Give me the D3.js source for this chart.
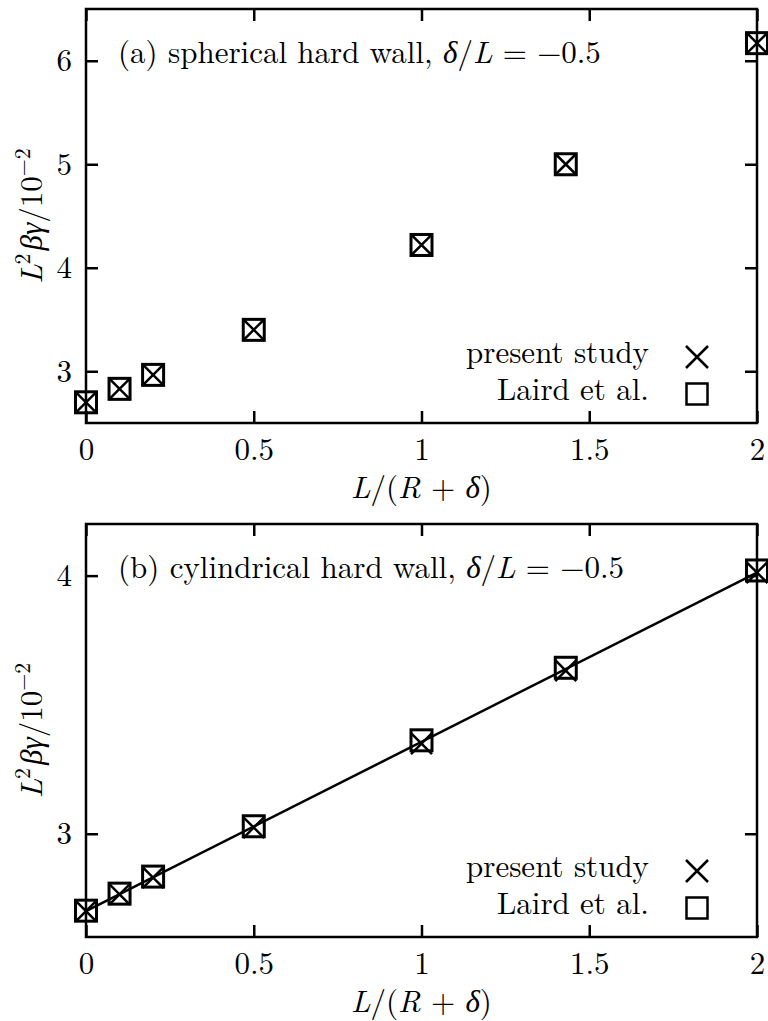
<!DOCTYPE html>
<html>
<head>
<meta charset="utf-8">
<script src="https://cdn.jsdelivr.net/npm/d3@7"></script>
<style>
  body { margin: 0; background: #fff; }
</style>
</head>
<body>
<div id="chart"></div>
<script>
// L/(R+delta) sample points
var xValues = [0, 0.1, 0.2, 0.5, 1, 1.43, 2];
var xTicks = [0, 0.5, 1, 1.5, 2];

// (a) spherical hard wall
var sphPresent = [2.70, 2.83, 2.965, 3.40, 4.22, 5.00, 6.17];
var sphLaird   = [2.70, 2.83, 2.965, 3.40, 4.22, 5.00, 6.17];
var sphTicks = [3, 4, 5, 6];

// (b) cylindrical hard wall
var cylPresent = [2.700, 2.765, 2.830, 3.024, 3.349, 3.632, 4.012];
var cylLaird   = [2.702, 2.768, 2.834, 3.029, 3.362, 3.643, 4.020];
var cylFitX = [0, 2];
var cylFitY = [2.70, 4.012];
var cylTicks = [3, 4];

var legendLabels = ["present study", "Laird et al."];

var width = 768, height = 1021;
var fs = 31;
var font = "'Latin Modern Roman', 'Liberation Serif', serif";

var svg = d3.select("#chart").append("svg")
  .attr("width", width)
  .attr("height", height)
  .style("font-family", font);

function txt(sel) {
  return sel.style("font-family", font).style("font-size", fs + "px").attr("fill", "#000");
}

function drawPanel(opt) {
  var left = 86, right = 757;
  var x = d3.scaleLinear().domain([0, 2]).range([left, right]);
  var y = d3.scaleLinear().domain(opt.yDomain).range([opt.bottom, opt.top]);
  var g = svg.append("g");

  // bottom axis with labels
  g.append("g")
    .attr("transform", "translate(0," + opt.bottom + ")")
    .call(d3.axisBottom(x).tickValues(xTicks).tickFormat(d3.format("")).tickSize(-12).tickSizeOuter(0).tickPadding(15))
    .call(function (s) { s.select(".domain").remove(); });
  // top ticks
  g.append("g")
    .attr("transform", "translate(0," + opt.top + ")")
    .call(d3.axisTop(x).tickValues(xTicks).tickFormat("").tickSize(-12).tickSizeOuter(0))
    .call(function (s) { s.select(".domain").remove(); });
  // left axis with labels
  g.append("g")
    .attr("transform", "translate(" + left + ",0)")
    .call(d3.axisLeft(y).tickValues(opt.yTicks).tickFormat(d3.format("d")).tickSize(-12).tickSizeOuter(0).tickPadding(14))
    .call(function (s) { s.select(".domain").remove(); });
  // right ticks
  g.append("g")
    .attr("transform", "translate(" + right + ",0)")
    .call(d3.axisRight(y).tickValues(opt.yTicks).tickFormat("").tickSize(-12).tickSizeOuter(0))
    .call(function (s) { s.select(".domain").remove(); });

  g.selectAll("g").attr("font-family", null).attr("font-size", null);
  g.selectAll(".tick line").attr("stroke", "#000").attr("stroke-width", 2.5);
  txt(g.selectAll(".tick text"));

  g.append("rect")
    .attr("x", left).attr("y", opt.top)
    .attr("width", right - left).attr("height", opt.bottom - opt.top)
    .attr("fill", "none").attr("stroke", "#000").attr("stroke-width", 2.5);

  // fit line
  if (opt.fitX) {
    var line = d3.line().x(function (d) { return x(d[0]); }).y(function (d) { return y(d[1]); });
    g.append("path")
      .datum(d3.zip(opt.fitX, opt.fitY))
      .attr("d", line)
      .attr("fill", "none").attr("stroke", "#000").attr("stroke-width", 2.5);
  }

  var s = 10.5;
  // Laird et al. squares
  g.selectAll(".sq").data(d3.zip(xValues, opt.laird)).enter().append("rect")
    .attr("x", function (d) { return x(d[0]) - s; })
    .attr("y", function (d) { return y(d[1]) - s; })
    .attr("width", 2 * s).attr("height", 2 * s)
    .attr("fill", "none").attr("stroke", "#000").attr("stroke-width", 3);
  // present study crosses
  g.selectAll(".cr").data(d3.zip(xValues, opt.present)).enter().append("path")
    .attr("d", function (d) {
      var cx = x(d[0]), cy = y(d[1]);
      return "M" + (cx - s) + "," + (cy - s) + "L" + (cx + s) + "," + (cy + s) +
             "M" + (cx - s) + "," + (cy + s) + "L" + (cx + s) + "," + (cy - s);
    })
    .attr("fill", "none").attr("stroke", "#000").attr("stroke-width", 2.5);

  // title
  var t = txt(g.append("text").attr("x", 118).attr("y", opt.top + 54));
  t.append("tspan").text(opt.title + " ");
  t.append("tspan").style("font-style", "italic").text("δ");
  t.append("tspan").text("/");
  t.append("tspan").style("font-style", "italic").text("L");
  t.append("tspan").text(" = −0.5");

  // legend
  var ly = opt.bottom - 60;
  legendLabels.forEach(function (lab, i) {
    txt(g.append("text"))
      .attr("x", 649).attr("y", ly + i * 37)
      .attr("text-anchor", "end")
      .text(lab);
  });
  var mx = 697, my0 = ly - 6, my1 = ly + 31;
  g.append("path")
    .attr("d", "M" + (mx - 11) + "," + (my0 - 11) + "L" + (mx + 11) + "," + (my0 + 11) +
               "M" + (mx - 11) + "," + (my0 + 11) + "L" + (mx + 11) + "," + (my0 - 11))
    .attr("stroke", "#000").attr("stroke-width", 2.5);
  g.append("rect")
    .attr("x", mx - 10.5).attr("y", my1 - 10.5).attr("width", 21).attr("height", 21)
    .attr("fill", "none").attr("stroke", "#000").attr("stroke-width", 2.5);

  // x label
  var xl = txt(g.append("text"))
    .attr("x", (left + right) / 2).attr("y", opt.bottom + 75)
    .attr("text-anchor", "middle");
  xl.append("tspan").style("font-style", "italic").text("L");
  xl.append("tspan").text("/(");
  xl.append("tspan").style("font-style", "italic").text("R");
  xl.append("tspan").text(" + ");
  xl.append("tspan").style("font-style", "italic").text("δ");
  xl.append("tspan").text(")");

  // y label
  var cy = (opt.top + opt.bottom) / 2;
  var yl = txt(g.append("text"))
    .attr("transform", "translate(42," + cy + ") rotate(-90)")
    .attr("text-anchor", "middle");
  yl.append("tspan").style("font-style", "italic").text("L");
  yl.append("tspan").attr("dy", -12).style("font-size", "22px").text("2");
  yl.append("tspan").attr("dy", 12).attr("dx", 3).style("font-style", "italic").text("βγ");
  yl.append("tspan").text("/10");
  yl.append("tspan").attr("dy", -12).style("font-size", "22px").text("−2");
}

drawPanel({
  top: 9, bottom: 423, yDomain: [2.5, 6.5], yTicks: sphTicks,
  present: sphPresent, laird: sphLaird,
  title: "(a) spherical hard wall,"
});

drawPanel({
  top: 524, bottom: 937, yDomain: [2.6, 4.2], yTicks: cylTicks,
  present: cylPresent, laird: cylLaird,
  fitX: cylFitX, fitY: cylFitY,
  title: "(b) cylindrical hard wall,"
});
</script>
</body>
</html>
